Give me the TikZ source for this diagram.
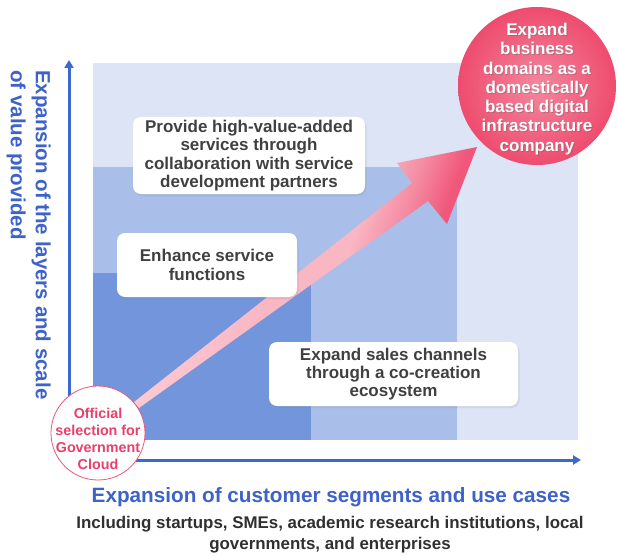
\documentclass[tikz,border=0pt]{standalone}
\usepackage{fontspec}
\setmainfont{Liberation Sans}
\usetikzlibrary{shadows,arrows.meta}

\definecolor{panelLight}{HTML}{DCE4F5}
\definecolor{panelMid}{HTML}{A9BEE8}
\definecolor{panelDark}{HTML}{7295DB}
\definecolor{axisBlue}{HTML}{3C69D0}
\definecolor{labelBlue}{HTML}{3D62C9}
\definecolor{boxText}{HTML}{404040}
\definecolor{subText}{HTML}{303030}
\definecolor{roseEdge}{HTML}{EE4C6E}
\definecolor{roseCore}{HTML}{F4879E}
\definecolor{roseText}{HTML}{E8406A}
\definecolor{roseLine}{HTML}{E8587C}
\definecolor{arrowPale}{HTML}{FBCCD5}
\definecolor{arrowMid}{HTML}{F9B6C3}
\definecolor{arrowWarm}{HTML}{F58CA3}
\definecolor{arrowDeep}{HTML}{F0577A}

% pale along the shaft, deepening across the head
\pgfdeclarehorizontalshading{arrowfade}{100bp}{
  color(0bp)=(arrowPale); color(30bp)=(arrowPale); color(46bp)=(arrowMid);
  color(55bp)=(arrowMid); color(61bp)=(arrowWarm); color(67bp)=(arrowDeep);
  color(100bp)=(arrowDeep)}

\tikzset{
  axisline/.style={draw=axisBlue, line width=3pt,
    -{Triangle[length=8pt,width=9pt]}},
  infobox/.style={fill=white, rounded corners=8pt, inner sep=0pt,
    text=boxText, align=center,
    font=\fontsize{17}{18.3}\selectfont\bfseries,
    drop shadow={shadow xshift=1.5pt, shadow yshift=-2pt, opacity=0.15}},
  goalcirc/.style={circle, minimum size=158pt, inner sep=0pt,
    inner color=roseCore, outer color=roseEdge},
  goaltext/.style={align=center, text=white, inner sep=0pt,
    font=\fontsize{17}{19.3}\selectfont\bfseries},
  startcirc/.style={circle, minimum size=94pt, inner sep=0pt,
    fill=white, draw=roseLine, line width=0.8pt},
  starttext/.style={align=center, text=roseText, inner sep=0pt,
    font=\fontsize{14.3}{17}\selectfont\bfseries},
}

\begin{document}
\begin{tikzpicture}[x=1pt, y=-1pt]
  % canvas
  \fill[white] (0,0) rectangle (617,556);
  \useasboundingbox (0,0) rectangle (617,556);

  % nested value panels
  \fill[panelLight] (93,63) rectangle (578,440);
  \fill[panelMid]   (93,167) rectangle (457,440);
  \fill[panelDark]  (93,273) rectangle (311,440);

  % axes
  \coordinate (yfoot) at (69,452);
  \coordinate (ytop)  at (69,60);
  \coordinate (xfoot) at (110,460);
  \coordinate (xend)  at (581,460);
  \draw[axisline] (yfoot) -- (ytop);
  \draw[axisline] (xfoot) -- (xend);

  % growth arrow from the starting point to the goal
  \coordinate (tailA) at (134,402);
  \coordinate (tailB) at (139,408);
  \coordinate (neckB) at (428,201);
  \coordinate (barbB) at (447,224);
  \coordinate (tip)   at (477,147);
  \coordinate (barbA) at (397,163);
  \coordinate (neckA) at (412,183);
  \shade[shading=arrowfade, shading angle=-20]
    (tailA) -- (neckA) -- (barbA) -- (tip) -- (barbB) -- (neckB) -- (tailB) -- cycle;

  % step boxes
  \node[infobox, minimum width=232pt, minimum height=77pt] (partners) at (249,155.5)
    {Provide high-value-added\\services through\\collaboration with service\\development partners};
  \node[infobox, minimum width=180pt, minimum height=64pt] (functions) at (207,265)
    {Enhance service\\functions};
  \node[infobox, minimum width=249pt, minimum height=64pt] (channels) at (393.5,374)
    {Expand sales channels\\through a co-creation\\ecosystem};

  % goal circle
  \node[goalcirc] (goal) at (537,86) {};
  \node[goaltext, text=black!60, opacity=0.4] (goalshade) at (538,90)
    {Expand\\business\\domains as a\\domestically\\based digital\\infrastructure\\company};
  \node[goaltext] (goallabel) at (537,89)
    {Expand\\business\\domains as a\\domestically\\based digital\\infrastructure\\company};

  % starting circle
  \node[startcirc] (gov) at (98,433) {};
  \node[starttext] (govlabel) at (98,438.5)
    {Official\\selection for\\Government\\Cloud};

  % axis titles
  \node[rotate=-90, anchor=north west, inner sep=0pt, align=left,
        text=labelBlue, font=\fontsize{20.5}{25}\selectfont\bfseries] (ylabel) at (51,70)
    {Expansion of the layers and scale\\of value provided};
  \node[inner sep=0pt, text=labelBlue,
        font=\fontsize{20.7}{24}\selectfont\bfseries] (xlabel) at (331,497)
    {Expansion of customer segments and use cases};
  \node[inner sep=0pt, align=center, text=subText,
        font=\fontsize{16.9}{21}\selectfont\bfseries] (xnote) at (330,535)
    {Including startups, SMEs, academic research institutions, local\\governments, and enterprises};
\end{tikzpicture}
\end{document}
